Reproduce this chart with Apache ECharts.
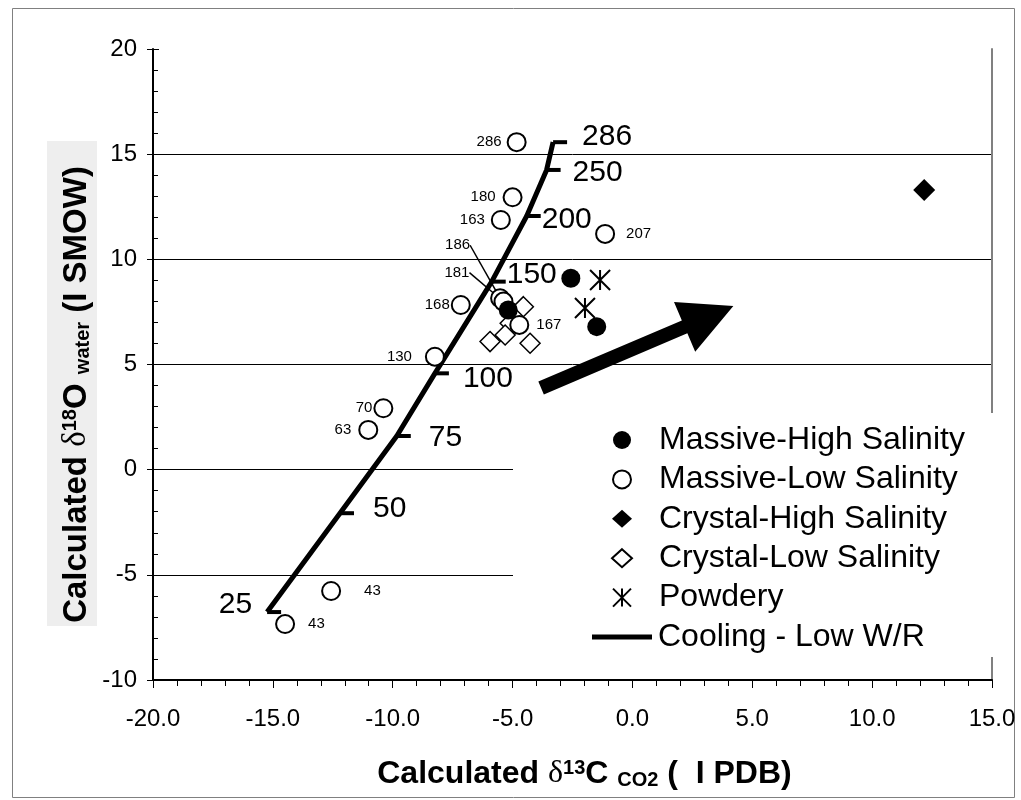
<!DOCTYPE html>
<html>
<head>
<meta charset="utf-8">
<script src="https://cdn.jsdelivr.net/npm/echarts@6/dist/echarts.min.js"></script>
<style>
  html, body { margin: 0; padding: 0; background: #fff; }
  #chart { width: 1021px; height: 800px; }
</style>
</head>
<body>
<div id="chart"></div>
<script>
// axis ranges
var xMin = -20, xMax = 15, xStep = 5;
var yMin = -10, yMax = 20, yStep = 5;

// Massive-High Salinity
var mhsX = [-2.57, -5.18, -1.49];
var mhsY = [9.10, 7.59, 6.80];

// Massive-Low Salinity (with temperature labels)
var mlsX = [-4.83, -5.00, -5.49, -1.14, -7.16, -5.52, -5.38, -4.72, -8.24, -10.39, -11.02, -12.57, -14.49];
var mlsY = [15.57, 12.95, 11.87, 11.21, 7.83, 8.15, 7.99, 6.88, 5.37, 2.92, 1.89, -5.77, -7.34];
var mlsT = ['286', '180', '163', '207', '168', '186', '181', '167', '130', '70', '63', '43', '43'];

// Crystal-High Salinity
var chsX = [12.17];
var chsY = [13.30];

// Crystal-Low Salinity
var clsX = [-4.55, -5.10, -5.31, -5.94, -4.27];
var clsY = [7.75, 6.96, 6.40, 6.09, 6.01];

// Powdery
var powX = [-1.35, -1.98];
var powY = [9.02, 7.69];

// Cooling - Low W/R path, labelled by temperature
var coolT = [25, 50, 75, 100, 150, 200, 250, 286];
var coolX = [-15.24, -12.20, -9.83, -8.24, -5.87, -4.41, -3.58, -3.31];
var coolY = [-6.77, -2.07, 1.60, 4.58, 8.94, 12.06, 14.25, 15.57];

// trend arrow (from, to)
var arrowFrom = [-3.81, 3.88];
var arrowTo = [4.21, 7.78];

// label placement (layout only)
var mlsLabelPos = ['left', 'left', 'left', 'right', 'left', 'left', 'left', 'right', 'left', 'left', 'left', 'right', 'right'];
var mlsLabelGap = [5, 7, 6, 11, 1, 5, 5, 7, 13, 1, 7, 23, 13];
var mlsLabelDy = [0, 0, 0, 0, 0, 0, 0, -2, -5, -3, 0, 1, 0];
var mlsLeader = { 5: [-15, -53], 6: [-19, -29] };
var coolLabelPos = ['left', 'right', 'right', 'right', 'right', 'right', 'right', 'right'];
var coolLabelShift = [[-15, -7], [19, -4], [18, 2], [14, 5], [1, -7], [1, 4], [12, 3], [15, -5]];

function pairs(xs, ys) {
  return xs.map(function (x, i) { return [x, ys[i]] })
}

var mlsData = mlsX.map(function (x, i) {
  return {
    value: [x, mlsY[i], mlsT[i]],
    label: { position: mlsLabelPos[i], distance: mlsLabelGap[i], offset: [0, mlsLabelDy[i]] },
    labelLine: { show: !!mlsLeader[i] }
  }
})

var coolData = coolX.map(function (x, i) {
  return {
    value: [x, coolY[i], coolT[i]],
    label: { position: coolLabelPos[i], distance: 0, offset: coolLabelShift[i] }
  }
})

function renderArrow(params, api) {
  var p0 = api.coord([api.value(0), api.value(1)])
  var p1 = api.coord([api.value(2), api.value(3)])
  var dx = p1[0] - p0[0]
  var dy = p1[1] - p0[1]
  var len = Math.sqrt(dx * dx + dy * dy)
  var ux = dx / len, uy = dy / len
  var nx = -uy, ny = ux
  var hw = 7, headLen = 53, headHw = 27
  var bx = p1[0] - ux * headLen, by = p1[1] - uy * headLen
  return {
    type: 'polygon',
    shape: {
      points: [
        [p0[0] + nx * hw, p0[1] + ny * hw],
        [bx + nx * hw, by + ny * hw],
        [bx + nx * headHw, by + ny * headHw],
        p1,
        [bx - nx * headHw, by - ny * headHw],
        [bx - nx * hw, by - ny * hw],
        [p0[0] - nx * hw, p0[1] - ny * hw]
      ]
    },
    style: { fill: '#000' }
  }
}

var chart = echarts.init(document.getElementById('chart'))

var titleRich = function (size) {
  var small = Math.round(size * 0.62)
  return {
    t: { fontFamily: 'Liberation Sans', fontWeight: 'bold', fontSize: size, color: '#000' },
    d: { fontFamily: 'Liberation Serif', fontSize: size, color: '#000' },
    sup: { fontFamily: 'Liberation Sans', fontWeight: 'bold', fontSize: small, verticalAlign: 'top', lineHeight: small, color: '#000' },
    sub: { fontFamily: 'Liberation Sans', fontWeight: 'bold', fontSize: small, verticalAlign: 'bottom', lineHeight: small, color: '#000' },
    sp: { width: 60, fontSize: size }
  }
}

var option = {
  backgroundColor: '#fff',
  animation: false,
  textStyle: { fontFamily: 'Liberation Sans', color: '#000' },
  grid: { left: 153, right: 29, top: 49, bottom: 120, containLabel: false, outerBoundsMode: 'none' },
  graphic: [
    {
      type: 'rect', left: 10, top: 6, z: 0,
      shape: { width: 1002, height: 789 },
      style: { fill: 'none', stroke: '#808080', lineWidth: 1 }
    },
    {
      // shaded panel behind the y-axis title
      type: 'rect', left: 47, top: 141, z: -1,
      shape: { width: 50, height: 485 },
      style: { fill: '#eeeeee' }
    },
    {
      type: 'rect', left: 513, top: 413, z: 10,
      shape: { width: 482, height: 244 },
      style: { fill: '#fff' }
    }
  ],
  legend: [
    {
      z: 11,
      orient: 'vertical',
      left: 606,
      top: 419,
      itemWidth: 20,
      itemHeight: 18,
      itemGap: 7.4,
      textStyle: { fontSize: 32, lineHeight: 30, color: '#000', padding: [0, 0, 0, 22] },
      data: ['Massive-High Salinity', 'Massive-Low Salinity', 'Crystal-High Salinity', 'Crystal-Low Salinity', 'Powdery']
    },
    {
      z: 11,
      left: 587,
      top: 616,
      itemWidth: 60,
      itemHeight: 5,
      textStyle: { fontSize: 32, lineHeight: 30, color: '#000', padding: [0, 0, 0, 1] },
      data: [{ name: 'Cooling - Low W/R', icon: 'rect' }]
    }
  ],
  xAxis: {
    type: 'value',
    min: xMin,
    max: xMax,
    interval: xStep,
    name: '{t|Calculated }{d|δ}{sup|13}{t|C }{sub|CO2}{t| (  I PDB)}',
    nameLocation: 'middle',
    nameGap: 78,
    nameMoveOverlap: false,
    nameTextStyle: { rich: titleRich(32), padding: [0, 0, 0, 24] },
    axisLine: { onZero: false, lineStyle: { color: '#000', width: 2 } },
    axisTick: { length: 8, lineStyle: { color: '#000', width: 1 } },
    minorTick: { show: true, splitNumber: 5, length: 6, lineStyle: { color: '#000', width: 1 } },
    axisLabel: { fontSize: 24, margin: 27, color: '#000', formatter: function (v) { return v.toFixed(1) } },
    splitLine: { show: false }
  },
  yAxis: [
    {
      type: 'value',
      min: yMin,
      max: yMax,
      interval: yStep,
      name: '{t|Calculated }{d|δ}{sup|18}{t|O }{sub|water}{t| (I SMOW)}{sp| }',
      nameLocation: 'middle',
      nameRotate: 90,
      nameGap: 60,
      nameMoveOverlap: false,
      nameTextStyle: { rich: titleRich(33), align: 'center' },
      axisLine: { onZero: false, lineStyle: { color: '#000', width: 2 } },
      axisTick: { inside: true, length: 6, lineStyle: { color: '#000', width: 1 } },
      minorTick: { show: true, splitNumber: 5, length: 5, lineStyle: { color: '#000', width: 1 } },
      axisLabel: { fontSize: 24, margin: 16, color: '#000' },
      splitLine: { show: true, showMaxLine: false, showMinLine: false, lineStyle: { color: '#000', width: 1 } }
    },
    {
      type: 'value',
      min: yMin,
      max: yMax,
      interval: yStep,
      position: 'left',
      axisLine: { show: false, onZero: false },
      axisTick: { show: true, length: 6, lineStyle: { color: '#000', width: 1 } },
      axisLabel: { show: false },
      splitLine: { show: false }
    },
    {
      type: 'value',
      min: yMin,
      max: yMax,
      interval: yStep,
      position: 'right',
      axisLine: { show: true, onZero: false, lineStyle: { color: '#808080', width: 2 } },
      axisTick: { show: false },
      axisLabel: { show: false },
      splitLine: { show: false }
    }
  ],
  series: [
    {
      name: 'Cooling - Low W/R',
      type: 'line',
      z: 2,
      data: coolData,
      color: '#000',
      lineStyle: { color: '#000', width: 5 },
      symbol: 'rect',
      symbolSize: [14, 4],
      symbolOffset: [7, 0],
      itemStyle: { color: '#000' },
      label: { show: true, fontSize: 30, color: '#000', formatter: function (p) { return p.value[2] } }
    },
    {
      name: 'Crystal-Low Salinity',
      type: 'scatter',
      z: 3,
      data: pairs(clsX, clsY),
      symbol: 'diamond',
      symbolSize: 20,
      itemStyle: { color: '#fff', borderColor: '#000', borderWidth: 1.5, opacity: 1 }
    },
    {
      name: 'Massive-Low Salinity',
      type: 'scatter',
      z: 4,
      data: mlsData,
      symbol: 'circle',
      symbolSize: 18,
      itemStyle: { color: '#fff', borderColor: '#000', borderWidth: 2, opacity: 1 },
      label: { show: true, fontSize: 15, color: '#000', formatter: function (p) { return p.value[2] } },
      labelLine: { lineStyle: { color: '#000', width: 1.5 } },
      labelLayout: function (params) {
        var s = mlsLeader[params.dataIndex]
        return s ? { dx: s[0], dy: s[1] } : {}
      }
    },
    {
      name: 'Massive-High Salinity',
      type: 'scatter',
      z: 5,
      data: pairs(mhsX, mhsY),
      symbol: 'circle',
      symbolSize: 19,
      itemStyle: { color: '#000', opacity: 1 }
    },
    {
      name: 'Crystal-High Salinity',
      type: 'scatter',
      z: 5,
      data: pairs(chsX, chsY),
      symbol: 'diamond',
      symbolSize: 22,
      itemStyle: { color: '#000', opacity: 1 }
    },
    {
      name: 'Powdery',
      type: 'scatter',
      z: 5,
      data: pairs(powX, powY),
      symbol: 'path://M0,0L20,20M20,0L0,20M10,0L10,20',
      symbolSize: 20,
      itemStyle: { color: 'transparent', borderColor: '#000', borderWidth: 2, opacity: 1 }
    },
    {
      name: 'trend',
      type: 'custom',
      z: 5,
      renderItem: renderArrow,
      encode: { x: [0, 2], y: [1, 3] },
      data: [[arrowFrom[0], arrowFrom[1], arrowTo[0], arrowTo[1]]]
    }
  ]
}

chart.setOption(option)
</script>
</body>
</html>
